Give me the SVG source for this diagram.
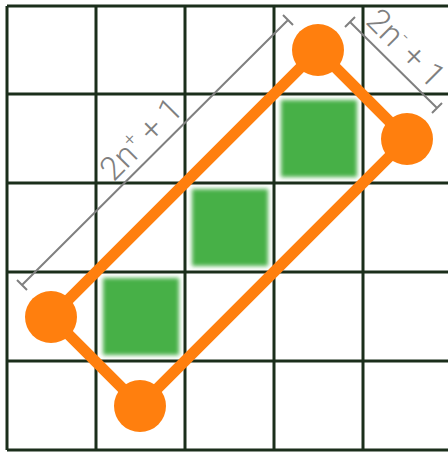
<svg xmlns="http://www.w3.org/2000/svg" width="448" height="452" viewBox="0 0 448 452">
<defs>
<filter id="blur" x="-10%" y="-10%" width="120%" height="120%"><feGaussianBlur stdDeviation="2"/></filter>
<style>
.grid{stroke:#1b2e1b;stroke-width:3;fill:none}
.sq{fill:#47b047;filter:url(#blur)}
.sqbg{fill:#fff}
.edge{stroke:#ff7f0e;stroke-width:11;fill:none}
.node{fill:#ff7f0e}
.dim{stroke:#808080;stroke-width:2;fill:none}
.lbl{font-family:Roboto,sans-serif;font-weight:300;font-size:33px;fill:#808080}
</style>
</defs>
<rect width="448" height="452" fill="#fff"/>
<g id="cells">
<rect class="sqbg" x="277" y="97" width="83" height="83"/>
<rect class="sq" x="281" y="100" width="76" height="77"/>
<rect class="sqbg" x="188" y="186" width="83" height="83"/>
<rect class="sq" x="192" y="189" width="76" height="77"/>
<rect class="sqbg" x="99" y="275" width="83" height="83"/>
<rect class="sq" x="103" y="278" width="76" height="77"/>
</g>
<g id="grid" class="grid">
<path d="M7,6V450M96,6V450M185,6V450M274,6V450M363,6V450M7,6H448M7,94H448M7,183H448M7,272H448M7,361H448M7,450H448"/>
</g>
<g id="connectors">
<path class="edge" d="M318,50L407,139L140,406L51,317Z"/>
<g class="dim">
<path d="M22,285L288,20M17,280L27,290M283,15L293,25"/>
<path d="M350,22L437,108M345,27L355,17M432,113L442,103"/>
</g>
</g>
<g id="n-top"><circle class="node" cx="318" cy="50" r="26"/></g>
<g id="n-right"><circle class="node" cx="407" cy="139" r="26"/></g>
<g id="n-bottom"><circle class="node" cx="140" cy="406" r="26"/></g>
<g id="n-left"><circle class="node" cx="51" cy="317" r="26"/></g>
<g id="labels">
<text class="lbl" text-anchor="middle" transform="translate(149,147) rotate(-45)">2n<tspan font-size="19" dy="-13">+</tspan><tspan dy="13"> + 1</tspan></text>
<text class="lbl" text-anchor="middle" transform="translate(398,56) rotate(45)">2n<tspan font-size="19" dy="-13">-</tspan><tspan dy="13"> + 1</tspan></text>
</g>
</svg>
